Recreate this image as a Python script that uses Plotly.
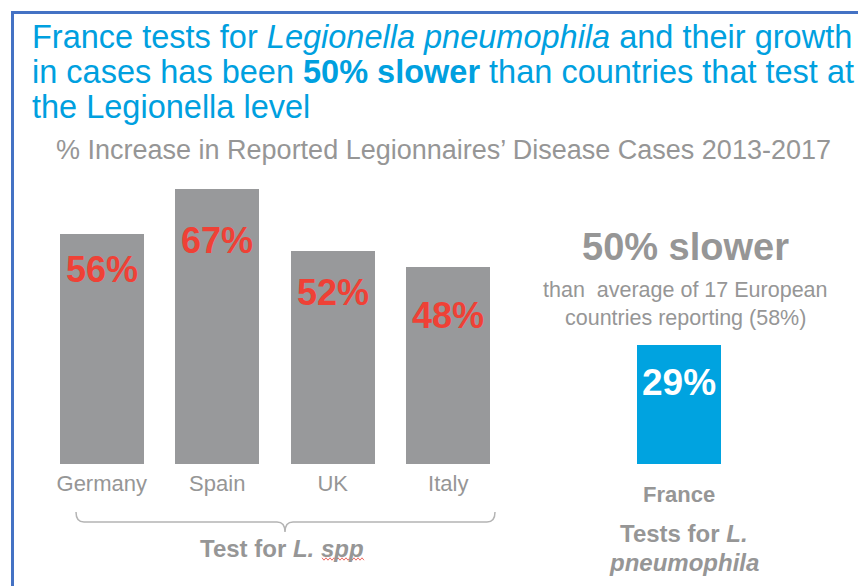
import plotly.graph_objects as go

# ---- data ----
countries = ["Germany", "Spain", "UK", "Italy"]
increase = [56, 67, 52, 48]
france_label = "France"
france_increase = [29]
european_average = 58

title_lines = [
    "France tests for <i>Legionella pneumophila</i> and their growth",
    "in cases has been <b>50% slower</b> than countries that test at",
    "the Legionella level",
]
subtitle = "% Increase in Reported Legionnaires\u2019 Disease Cases 2013-2017"

# ---- layout constants (page has an 8px body margin) ----
OFF = 8
W, H = 866 - OFF, 586 - OFF
ML, MR, MT, MB = 36, 129, 132, 122
PW, PH = W - ML - MR, H - MT - MB
FONT = "Arial, Liberation Sans, sans-serif"
GRAY_BAR = "#98999b"
RED = "#ef4136"
BLUE = "#00a3e0"
TXT_GRAY = "#969696"

def px(x):
    return (x - OFF - ML) / PW

def py(y):
    return (H - MB - (y - OFF)) / PH

x_gray = [0, 1, 2, 3]
x_france = [5]

fig = go.Figure()
fig.add_trace(go.Bar(x=x_gray, y=increase, width=0.73, marker_color=GRAY_BAR,
                     marker_line_width=0, hoverinfo="skip"))
fig.add_trace(go.Bar(x=x_france, y=france_increase, width=0.73, marker_color=BLUE,
                     marker_line_width=0, hoverinfo="skip"))

def text(x, y, s, size, color, xref="paper", **kw):
    d = dict(x=x, y=y, xref=xref, yref="paper", text=s, showarrow=False,
             xanchor="center", yanchor="middle",
             font=dict(family=FONT, size=size, color=color))
    d.update(kw)
    return d

ann = []
# value labels in bars
label_offsets = [-35, -51, -42, -48]
for xv, v, off in zip(x_gray, increase, label_offsets):
    ann.append(dict(x=xv, y=v, xref="x", yref="y", text=f"<b>{v}%</b>", showarrow=False,
                    xanchor="center", yanchor="middle", yshift=off,
                    font=dict(family=FONT, size=36, color=RED)))
ann.append(dict(x=x_france[0], y=france_increase[0], xref="x", yref="y",
                text=f"<b>{france_increase[0]}%</b>", showarrow=False, yshift=-37,
                xanchor="center", yanchor="middle",
                font=dict(family=FONT, size=37, color="white")))

# title lines
for line, yc in zip(title_lines, [37, 72, 107]):
    ann.append(text(px(30), py(yc), line, 32.5, "#00a0df", xanchor="left"))
ann.append(text(px(443), py(150), subtitle, 27, TXT_GRAY))

# right panel texts
ann.append(text(px(685), py(247), "<b>50% slower</b>", 38, TXT_GRAY))
ann.append(text(px(685), py(290), "than  average of 17 European", 21.5, TXT_GRAY))
ann.append(text(px(685), py(318), f"countries reporting ({european_average}%)", 21.5, TXT_GRAY))
ann.append(text(x_france[0], py(494), f"<b>{france_label}</b>", 22, TXT_GRAY, xref="x"))
ann.append(text(px(684), py(533), "<b>Tests for <i>L.</i></b>", 24, TXT_GRAY))
ann.append(text(px(684), py(562), "<b><i>pneumophila</i></b>", 24, TXT_GRAY))
ann.append(text(px(282), py(548), "<b>Test for <i>L. spp</i></b>", 24, TXT_GRAY))

def P(x, y):
    return f"{px(x):.5f},{py(y):.5f}"

bracket = (f"M {P(76,512)} Q {P(76,522)} {P(84,522)} L {P(277,522)} "
           f"Q {P(285,522)} {P(285,532)} Q {P(285,522)} {P(293,522)} "
           f"L {P(487,522)} Q {P(495,522)} {P(495,512)}")

# spell-check squiggle under "spp"
sq_pts = []
xx = 322
k = 0
while xx <= 364:
    sq_pts.append(P(xx, 559 + (1.2 if k % 2 else -1.2)))
    xx += 2
    k += 1
squiggle = "M " + " L ".join(sq_pts)

shapes = [
    dict(type="path", path=bracket, xref="paper", yref="paper",
         line=dict(color="#b4b4b4", width=1.5)),
    dict(type="path", path=squiggle, xref="paper", yref="paper",
         line=dict(color="#e8463c", width=0.8)),
    dict(type="line", xref="paper", yref="paper", x0=px(11), x1=px(870), y0=py(12.5), y1=py(12.5),
         line=dict(color="#4472c4", width=3)),
    dict(type="line", xref="paper", yref="paper", x0=px(12.5), x1=px(12.5), y0=py(11), y1=py(600),
         line=dict(color="#4472c4", width=3)),
]

fig.update_layout(
    width=W, height=H, margin=dict(l=ML, r=MR, t=MT, b=MB, pad=0),
    paper_bgcolor="white", plot_bgcolor="white", showlegend=False,
    annotations=ann, shapes=shapes, bargap=0,
    xaxis=dict(range=[-0.5, 5.5], tickvals=x_gray, ticktext=countries, showgrid=False,
               zeroline=False, showline=False, ticks="", ticklabelstandoff=4,
               tickfont=dict(family=FONT, size=22, color=TXT_GRAY)),
    yaxis=dict(range=[0, PH / 4.1], visible=False, showgrid=False, zeroline=False),
)
fig.write_html("out.html")
